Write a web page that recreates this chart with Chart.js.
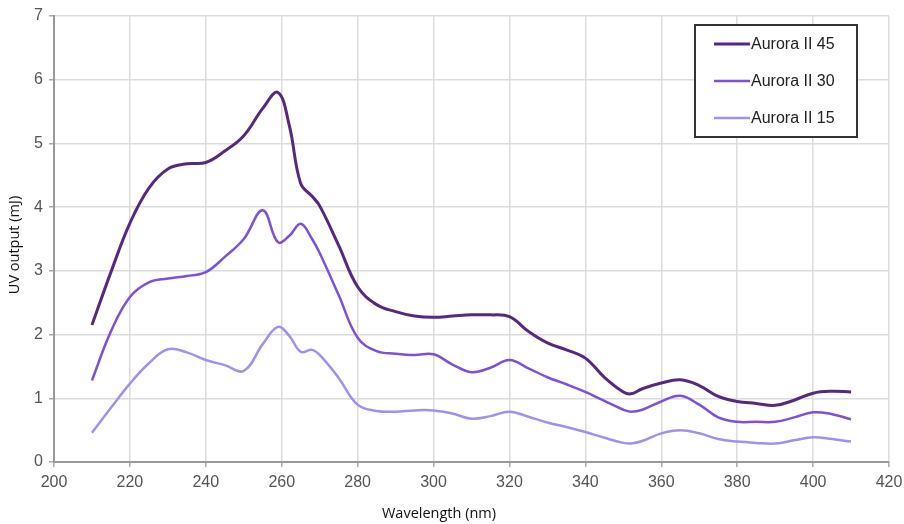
<!DOCTYPE html>
<html>
<head>
<meta charset="utf-8">
<script src="https://cdn.jsdelivr.net/npm/chart.js@4.4.1/dist/chart.umd.min.js"></script>
<style>
  html, body { margin: 0; padding: 0; background: #fff; }
  #wrap { width: 904px; height: 524px; }
</style>
</head>
<body>
<div id="wrap"><canvas id="uv-chart" width="904" height="524"></canvas></div>
<script>
var wavelengths = [210, 215, 220, 225, 230, 235, 240, 245, 250, 255, 259, 262, 265, 268, 270, 275, 280, 285, 290, 295, 300, 305, 310, 315, 320, 325, 330, 335, 340, 345, 350, 352, 355, 360, 365, 370, 375, 380, 385, 390, 395, 400, 405, 410];

var aurora45 = [2.15, 2.98, 3.75, 4.30, 4.60, 4.68, 4.70, 4.88, 5.12, 5.55, 5.80, 5.28, 4.37, 4.17, 4.02, 3.40, 2.75, 2.47, 2.36, 2.29, 2.27, 2.29, 2.31, 2.31, 2.28, 2.05, 1.87, 1.76, 1.63, 1.33, 1.10, 1.07, 1.15, 1.24, 1.29, 1.20, 1.03, 0.95, 0.92, 0.89, 0.97, 1.08, 1.11, 1.10];
var aurora30 = [1.28, 2.05, 2.59, 2.82, 2.88, 2.92, 2.98, 3.22, 3.50, 3.95, 3.45, 3.55, 3.74, 3.50, 3.28, 2.62, 1.95, 1.74, 1.70, 1.68, 1.69, 1.53, 1.41, 1.48, 1.60, 1.47, 1.33, 1.22, 1.10, 0.96, 0.82, 0.79, 0.82, 0.95, 1.04, 0.90, 0.70, 0.63, 0.63, 0.63, 0.70, 0.78, 0.75, 0.67];
var aurora15 = [0.46, 0.85, 1.23, 1.55, 1.77, 1.72, 1.60, 1.52, 1.43, 1.85, 2.12, 1.98, 1.73, 1.76, 1.68, 1.32, 0.90, 0.80, 0.79, 0.81, 0.81, 0.76, 0.68, 0.72, 0.79, 0.71, 0.62, 0.55, 0.47, 0.38, 0.30, 0.29, 0.33, 0.45, 0.50, 0.45, 0.36, 0.32, 0.30, 0.29, 0.34, 0.39, 0.36, 0.32];

var seriesNames = ["Aurora II 45", "Aurora II 30", "Aurora II 15"];
var seriesColors = ['#56297f', '#7b52d9', '#a48ff0'];
var seriesWidths = [3, 2.5, 2.5];

function toPoints(values) {
    return values.map(function (v, i) { return { x: wavelengths[i], y: v }; });
}

var allSeries = [aurora45, aurora30, aurora15];
var datasets = allSeries.map(function (values, i) {
    return {
        label: seriesNames[i],
        data: toPoints(values),
        borderColor: seriesColors[i],
        borderWidth: seriesWidths[i],
        pointRadius: 0,
        fill: false,
        tension: 0.4
    };
});

// legend box + axis titles drawn at fixed places like the original
var extras = {
    id: 'extras',
    afterDraw: function (chart) {
        var ctx = chart.ctx;
        ctx.save();

        // legend
        ctx.fillStyle = '#fff';
        ctx.fillRect(695, 25, 162, 112);
        ctx.strokeStyle = '#333';
        ctx.lineWidth = 2;
        ctx.strokeRect(695, 25, 162, 112);
        ctx.font = '16px "Liberation Sans", Arial, sans-serif';
        ctx.textBaseline = 'middle';
        var rows = [44, 81, 118];
        for (var i = 0; i < seriesNames.length; i++) {
            ctx.strokeStyle = seriesColors[i];
            ctx.lineWidth = seriesWidths[i];
            ctx.beginPath();
            ctx.moveTo(714, rows[i]);
            ctx.lineTo(750, rows[i]);
            ctx.stroke();
            ctx.fillStyle = '#222';
            ctx.fillText(seriesNames[i], 751, rows[i] + 1);
        }

        // axis titles
        ctx.fillStyle = '#111';
        ctx.font = '14.5px "Open Sans", "Noto Sans", sans-serif';
        ctx.textAlign = 'center';
        ctx.fillText('Wavelength (nm)', 439, 514);
        ctx.translate(15, 245);
        ctx.rotate(-Math.PI / 2);
        ctx.fillText('UV output (mJ)', 0, 0);
        ctx.restore();
    }
};

var ctxUv = document.getElementById('uv-chart').getContext('2d');
var chartUv = new Chart(ctxUv, {
    type: 'line',
    data: { datasets: datasets },
    options: {
        responsive: false,
        animation: false,
        layout: { padding: { top: 16, right: 15, left: 0, bottom: 0 } },
        plugins: {
            legend: { display: false },
            tooltip: { enabled: false }
        },
        scales: {
            x: {
                type: 'linear',
                min: 200,
                max: 420,
                ticks: {
                    stepSize: 20,
                    color: '#555',
                    padding: 6,
                    font: { family: '"Liberation Sans", Arial, sans-serif', size: 16 }
                },
                grid: { color: '#dcdcdc', lineWidth: 1.5, tickLength: 5, tickColor: '#aaa' },
                border: { color: '#999', width: 2 },
                afterFit: function (scale) {
                    scale.height = 62;
                    scale.paddingLeft = 0;
                    scale.paddingRight = 0;
                }
            },
            y: {
                min: 0,
                max: 7,
                ticks: {
                    stepSize: 1,
                    color: '#555',
                    padding: 6,
                    font: { family: '"Liberation Sans", Arial, sans-serif', size: 16 }
                },
                grid: { color: '#dcdcdc', lineWidth: 1.5, tickLength: 5, tickColor: '#aaa' },
                border: { color: '#999', width: 2 },
                afterFit: function (scale) { scale.width = 54; }
            }
        }
    },
    plugins: [extras]
});
</script>
</body>
</html>
